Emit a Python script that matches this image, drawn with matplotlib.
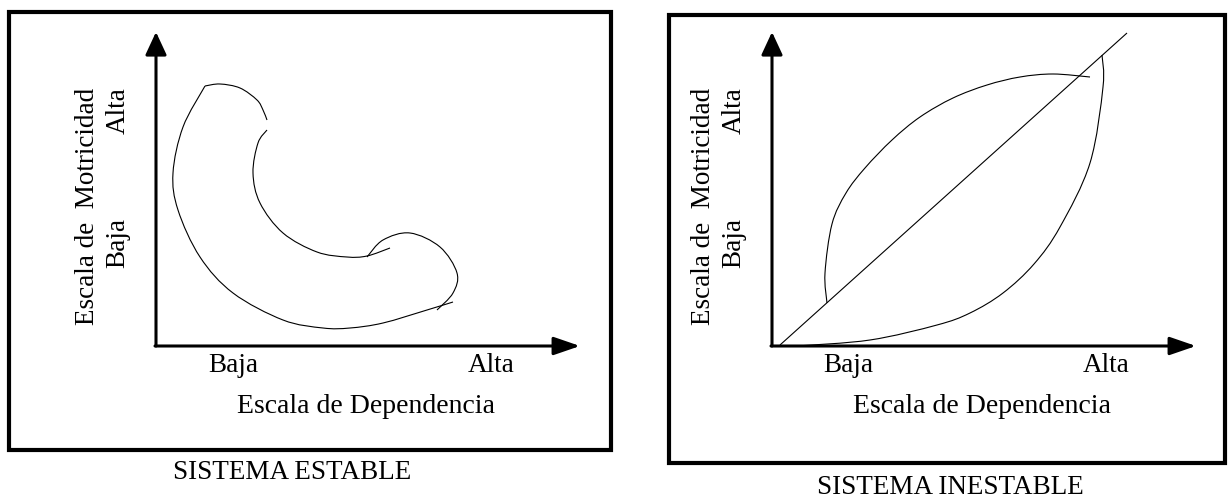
import numpy as np
import matplotlib
matplotlib.use('Agg')
import matplotlib.pyplot as plt
from matplotlib.path import Path
from matplotlib.patches import PathPatch, Rectangle, FancyArrowPatch
from matplotlib.transforms import Affine2D

plt.rcParams['font.family'] = ['Liberation Serif', 'DejaVu Serif']

# points, in pixels from each panel's origin (x right, y up)
estable_outer = [(49, 260), (27, 219), (17, 173), (22, 136), (44, 89), (77, 53),
                 (127, 26), (167, 18), (194, 18), (227, 23), (271, 36), (297, 44)]
estable_top = [(49, 260), (64, 262), (84, 258), (101, 246), (107, 236), (111, 226)]
estable_inner = [(111, 216), (102, 203), (97, 173), (104, 143), (127, 113),
                 (161, 94), (191, 89), (211, 90), (234, 98)]
estable_loop = [(211, 89), (227, 106), (254, 113), (284, 99), (301, 73),
                (297, 53), (281, 36)]

inestable_diag = [(8, 1), (355, 313)]
inestable_upper = [(55, 43), (53, 73), (60, 122), (74, 153), (93, 178),
                   (120, 206), (148, 229), (181, 248), (215, 261), (248, 269),
                   (281, 272), (318, 269)]
inestable_lower = [(25, 0), (98, 6), (165, 21), (198, 33), (231, 53), (262, 82),
                   (288, 119), (318, 183), (331, 259), (330, 291)]

x_ticks = ['Baja', 'Alta']
y_ticks = ['Baja', 'Alta']
x_title = 'Escala de Dependencia'
y_title = 'Escala de  Motricidad'
titles = ['SISTEMA ESTABLE', 'SISTEMA INESTABLE']


def smooth(pts):
    # catmull-rom through the read points, drawn as cubic bezier by matplotlib
    p = np.array(pts, dtype=float)
    if len(p) == 2:
        return Path(p, [Path.MOVETO, Path.LINETO])
    ext = np.vstack([p[0], p, p[-1]])
    verts = [p[0]]
    codes = [Path.MOVETO]
    for i in range(1, len(ext) - 2):
        p0, p1, p2, p3 = ext[i - 1], ext[i], ext[i + 1], ext[i + 2]
        verts += [p1 + (p2 - p0) / 6, p2 - (p3 - p1) / 6, p2]
        codes += [Path.CURVE4] * 3
    return Path(verts, codes)


fig = plt.figure(figsize=(12.31, 4.99), dpi=100)
ax = fig.add_axes([0, 0, 1, 1])
ax.set_xlim(0, 1231)
ax.set_ylim(499, 0)
ax.axis('off')


def panel(ox, oy, box, curves, tick_x, title_pos):
    tr = Affine2D().scale(1, -1).translate(ox, oy) + ax.transData
    bx0, by0, bx1, by1 = box
    ax.add_patch(Rectangle((bx0, by0), bx1 - bx0, by1 - by0, fill=False,
                           lw=3.0, ec='black', zorder=1))
    # axes with arrows
    ax.add_patch(FancyArrowPatch((0, 0), (0, 314), transform=tr,
                                 arrowstyle='-|>,head_length=14,head_width=6.5',
                                 mutation_scale=1, lw=2.2, color='black',
                                 shrinkA=0, shrinkB=0))
    ax.add_patch(FancyArrowPatch((-1, 0), (424, 0), transform=tr,
                                 arrowstyle='-|>,head_length=16,head_width=5.5',
                                 mutation_scale=1, lw=2.2, color='black',
                                 shrinkA=0, shrinkB=0))
    for c in curves:
        ax.add_patch(PathPatch(smooth(c), fill=False, lw=0.8, ec='black',
                               transform=tr))
    for lab, tx in zip(x_ticks, tick_x):
        ax.text(tx, 372, lab, ha='center', va='baseline', fontsize=19.5)
    ax.text(ox + 81, 413, x_title, ha='left', va='baseline', fontsize=20)
    ax.text(ox - 68, 88, y_title, ha='center', va='top', rotation=90,
            fontsize=19.5)
    ax.text(ox - 38, 243, y_ticks[0], ha='center', va='center', rotation=90,
            fontsize=19.5)
    ax.text(ox - 38, 111, y_ticks[1], ha='center', va='center', rotation=90,
            fontsize=19.5)
    ax.text(title_pos[0], title_pos[1], title_pos[2], ha='center',
            va='baseline', fontsize=19.5)


panel(156, 346, (9, 12, 611, 450),
      [estable_outer, estable_top, estable_inner, estable_loop],
      [233, 491], (292, 479, titles[0]))
panel(772, 346, (669, 15, 1225, 463),
      [inestable_diag, inestable_upper, inestable_lower],
      [848, 1106], (950, 494, titles[1]))

fig.savefig('out.png', dpi=100)
